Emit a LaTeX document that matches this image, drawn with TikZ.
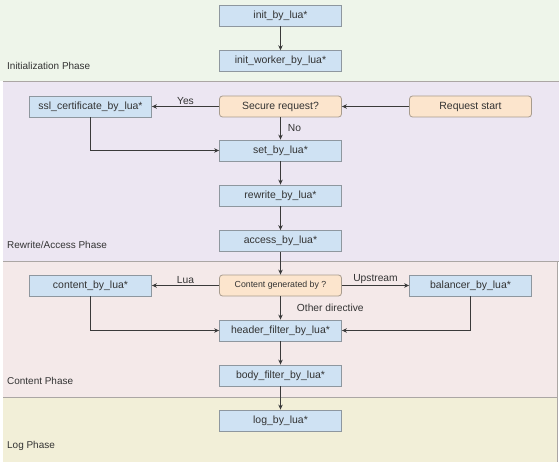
\documentclass[tikz,border=0pt]{standalone}
\usepackage{fontspec}
\setmainfont{Liberation Sans}
\usetikzlibrary{arrows.meta}
\definecolor{bandinit}{HTML}{EEF5EA}
\definecolor{bandrw}{HTML}{ECE6F2}
\definecolor{bandct}{HTML}{F4E9E9}
\definecolor{bandlog}{HTML}{F2EFD8}
\definecolor{boxblue}{HTML}{CFE2F3}
\definecolor{boxorange}{HTML}{FCE5CD}
\definecolor{blueedge}{HTML}{8E979F}
\definecolor{orangeedge}{HTML}{A89C8E}
\definecolor{sepc}{HTML}{ABA6A4}
\definecolor{arrowc}{HTML}{3A3A3A}
\definecolor{txt}{HTML}{333333}
\begin{document}
\begin{tikzpicture}[x=1bp,y=-1bp,
  phase/.style={anchor=west, inner sep=0pt, font=\fontsize{10}{12}\selectfont, text=txt},
  bluebox/.style={draw=blueedge, fill=boxblue, line width=0.8bp, minimum width=122bp, minimum height=21bp, inner sep=0pt, font=\fontsize{10.5}{12}\selectfont, text=txt},
  decision/.style={bluebox, fill=boxorange, draw=orangeedge, rounded corners=3bp},
  conn/.style={draw=arrowc, line width=0.9bp, -{Stealth[length=5bp,width=4.5bp]}},
  lbl/.style={font=\fontsize{10.3}{12}\selectfont, text=txt, inner sep=1bp},
  sepline/.style={draw=sepc, line width=1bp}
]
\useasboundingbox (0,0) rectangle (559,471);
% phase bands
\fill[bandinit] (0,0) rectangle (559,81.5);
\fill[bandrw] (3,81.5) rectangle (559,261);
\fill[bandct] (3,261) rectangle (557,397.5);
\fill[bandlog] (3,397.5) rectangle (557,462);
\draw[sepline] (3,81.5) -- (559,81.5);
\draw[sepline] (3,261) -- (559,261);
\draw[sepline] (3,397.5) -- (557,397.5);
\draw[sepline] (557,261) -- (557,462);

% phase labels
\node[phase] (pinit) at (7,65.5) {Initialization Phase};
\node[phase] (prw) at (7,244.5) {Rewrite/Access Phase};
\node[phase] (pct) at (7,380.5) {Content Phase};
\node[phase] (plog) at (7,446) {Log Phase};

% nodes
\node[bluebox] (init) at (280.5,15.5) {init\_by\_lua*};
\node[bluebox] (initw) at (280.5,61.2) {init\_worker\_by\_lua*};
\node[bluebox] (ssl) at (90.5,106.5) {ssl\_certificate\_by\_lua*};
\node[decision] (secure) at (280.5,106.5) {Secure request?};
\node[decision] (start) at (470.5,106.5) {Request start};
\node[bluebox] (set) at (280.5,150.5) {set\_by\_lua*};
\node[bluebox] (rewrite) at (280.5,195.5) {rewrite\_by\_lua*};
\node[bluebox] (access) at (280.5,241) {access\_by\_lua*};
\node[bluebox] (content) at (90.5,285.5) {content\_by\_lua*};
\node[decision, font=\fontsize{8.8}{10}\selectfont] (cg) at (280.5,285.5) {Content generated by ?};
\node[bluebox] (balancer) at (470.5,285.5) {balancer\_by\_lua*};
\node[bluebox] (header) at (280.5,330.5) {header\_filter\_by\_lua*};
\node[bluebox] (body) at (280.5,375.5) {body\_filter\_by\_lua*};
\node[bluebox] (log) at (280.5,420.5) {log\_by\_lua*};

% connectors
\draw[conn] (init) -- (initw);
\draw[conn] (start) -- (secure);
\draw[conn] (secure) -- node[lbl, midway, above=0.5bp] {Yes} (ssl);
\draw[conn] (secure) -- node[lbl, midway, right=6bp] {No} (set);
\draw[conn] (ssl.south) |- (set.west);
\draw[conn] (set) -- (rewrite);
\draw[conn] (rewrite) -- (access);
\draw[conn] (access) -- (cg);
\draw[conn] (cg) -- node[lbl, midway, above=0.5bp] {Lua} (content);
\draw[conn] (cg) -- node[lbl, midway, above=0.5bp] {Upstream} (balancer);
\draw[conn] (cg) -- node[lbl, midway, right=15bp] {Other directive} (header);
\draw[conn] (content.south) |- (header.west);
\draw[conn] (balancer.south) |- (header.east);
\draw[conn] (header) -- (body);
\draw[conn] (body) -- (log);
\end{tikzpicture}
\end{document}
